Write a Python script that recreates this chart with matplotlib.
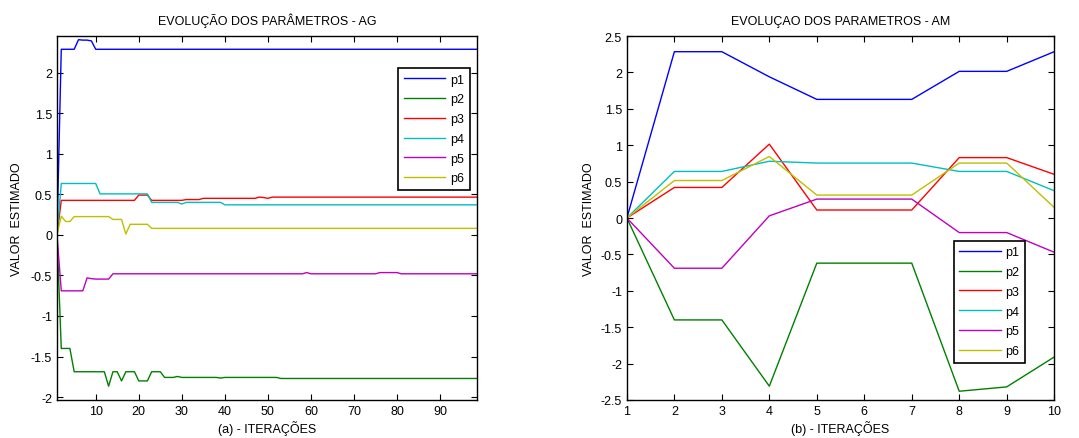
import numpy as np
import matplotlib
matplotlib.use("Agg")
import matplotlib.pyplot as plt
from matplotlib.ticker import FuncFormatter

plt.rcParams['font.family'] = ['Liberation Sans', 'DejaVu Sans']
plt.rcParams['axes.unicode_minus'] = False

# --- dados (a) AG: 99 iterações ---
ag_p1 = [0.0] + [2.287] * 4 + [2.405, 2.40, 2.40, 2.39] + [2.287] * 90
ag_p2 = ([0.0] + [-1.40] * 3 + [-1.687] * 8 + [-1.865] + [-1.687] * 2 + [-1.80]
         + [-1.687] * 3 + [-1.80] * 3 + [-1.687] * 3 + [-1.757] * 3 + [-1.745]
         + [-1.757] * 9 + [-1.765] + [-1.757] * 13 + [-1.77] * 47)
ag_p3 = ([0.0] + [0.425] * 18 + [0.49] * 3 + [0.425] * 8 + [0.435] * 4
         + [0.45] * 13 + [0.465, 0.46, 0.45] + [0.465] * 49)
ag_p4 = ([0.0] + [0.633] * 9 + [0.505] * 12 + [0.40] * 7 + [0.38]
         + [0.40] * 9 + [0.37] * 60)
ag_p5 = ([0.0] + [-0.69] * 6 + [-0.53, -0.54] + [-0.545] * 4 + [-0.48] * 45
         + [-0.465] + [-0.48] * 16 + [-0.465] * 5 + [-0.48] * 19)
ag_p6 = ([0.0, 0.23, 0.165, 0.165] + [0.225] * 9 + [0.19] * 3 + [0.01]
         + [0.13] * 5 + [0.08] * 77)
ag_iter = np.arange(1, len(ag_p1) + 1)

# --- dados (b) AM: 10 iterações ---
am_iter = list(range(1, 11))
am_p1 = [0.0, 2.285, 2.285, 1.94, 1.63, 1.63, 1.63, 2.015, 2.015, 2.285]
am_p2 = [0.0, -1.40, -1.40, -2.31, -0.62, -0.62, -0.62, -2.38, -2.32, -1.91]
am_p3 = [0.0, 0.42, 0.42, 1.015, 0.11, 0.11, 0.11, 0.83, 0.83, 0.60]
am_p4 = [0.0, 0.64, 0.64, 0.78, 0.755, 0.755, 0.755, 0.64, 0.64, 0.375]
am_p5 = [0.0, -0.69, -0.69, 0.03, 0.26, 0.26, 0.26, -0.20, -0.20, -0.47]
am_p6 = [0.0, 0.515, 0.515, 0.845, 0.315, 0.315, 0.315, 0.755, 0.755, 0.145]

labels = ['p1', 'p2', 'p3', 'p4', 'p5', 'p6']
cores = [(0, 0, 1), (0, 0.5, 0), (1, 0, 0), (0, 0.75, 0.75), (0.75, 0, 0.75), (0.75, 0.75, 0)]

fig = plt.figure(figsize=(10.79, 4.39), dpi=100)
ax1 = fig.add_axes([0.0528, 0.0866, 0.389, 0.829])
ax2 = fig.add_axes([0.581, 0.0866, 0.396, 0.829])

fmt = FuncFormatter(lambda v, p: '%g' % round(v, 2))

def estilo(ax):
    ax.tick_params(direction='in', top=True, right=True, labelsize=9, length=4, width=0.8)
    for s in ax.spines.values():
        s.set_linewidth(1.0)
    ax.yaxis.set_major_formatter(fmt)
    ax.xaxis.set_major_formatter(fmt)

def legenda(ax, anchor):
    leg = ax.legend(loc='upper right', bbox_to_anchor=anchor, fontsize=9,
                    handlelength=3.3, fancybox=False, framealpha=1, edgecolor='black',
                    borderpad=0.45, labelspacing=0.62, handletextpad=0.4,
                    borderaxespad=0)
    leg.get_frame().set_linewidth(1.2)

# grafico (a)
for serie, lab, c in zip([ag_p1, ag_p2, ag_p3, ag_p4, ag_p5, ag_p6], labels, cores):
    ax1.plot(ag_iter, serie, color=c, lw=1.0, label=lab)
ax1.set_xlim(1, 98.5)
ax1.set_ylim(-2.035, 2.45)
ax1.set_xticks(range(10, 100, 10))
ax1.set_yticks(np.arange(-2, 2.01, 0.5))
estilo(ax1)
ax1.set_title('EVOLUÇÃO DOS PARÂMETROS - AG', fontsize=9, pad=9)
ax1.set_xlabel('(a) - ITERAÇÕES', fontsize=9, labelpad=2)
ax1.set_ylabel('VALOR  ESTIMADO', fontsize=9, labelpad=6)
legenda(ax1, (0.983, 0.912))

# grafico (b)
for serie, lab, c in zip([am_p1, am_p2, am_p3, am_p4, am_p5, am_p6], labels, cores):
    ax2.plot(am_iter, serie, color=c, lw=1.0, label=lab)
ax2.set_xlim(1, 10)
ax2.set_ylim(-2.5, 2.5)
ax2.set_xticks(range(1, 11))
ax2.set_yticks(np.arange(-2.5, 2.51, 0.5))
estilo(ax2)
ax2.set_title('EVOLUÇAO DOS PARAMETROS - AM', fontsize=9, pad=9)
ax2.set_xlabel('(b) - ITERAÇÕES', fontsize=9, labelpad=2)
ax2.set_ylabel('VALOR  ESTIMADO', fontsize=9, labelpad=4)
legenda(ax2, (0.932, 0.4376))

fig.savefig('out.png', dpi=100)
